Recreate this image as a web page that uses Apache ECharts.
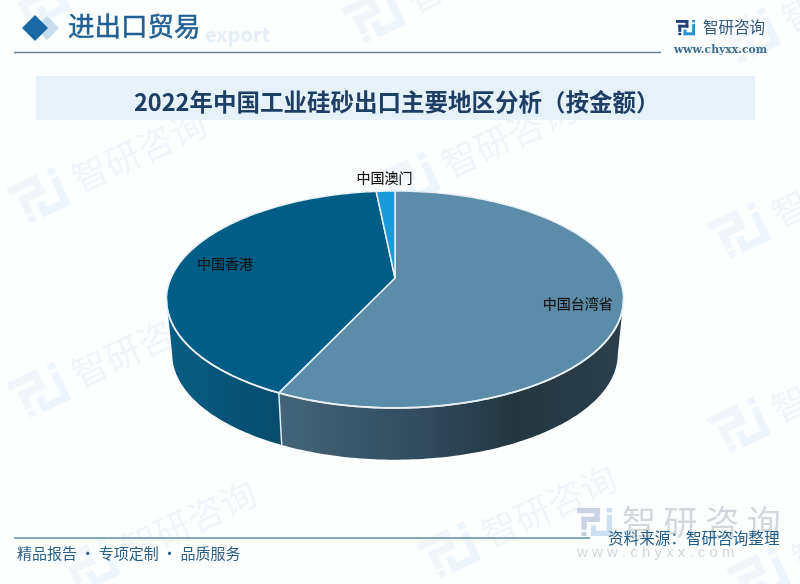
<!DOCTYPE html>
<html><head><meta charset="utf-8">
<style>html,body{margin:0;padding:0;background:#fff}#c{width:800px;height:584px}</style>
<script src="https://cdn.jsdelivr.net/npm/echarts@6/dist/echarts.min.js"></script>
</head><body><div id="c"></div>
<script>
// ---- data ----
const categories = ['中国台湾省', '中国香港', '中国澳门'];
const shares = [57.0, 41.4, 1.6];
const chartTitle = '2022年中国工业硅砂出口主要地区分析（按金额）';
const sectionTitle = '进出口贸易';
const footerLeft = '精品报告 · 专项定制 · 品质服务';
const footerRight = '资料来源：智研咨询整理';

// ---- style ----
const CJK = '"Noto Sans CJK SC","Noto Sans",sans-serif';
const topColors = ['#5b8ca9', '#005d85', '#1a9ad6'];
const wallStops = [
  [[0,'#436479'],[0.45,'#30495b'],[0.68,'#24363f'],[1,'#2a3f4c']],
  [[0,'#0a5d83'],[1,'#074c6e']],
  [[0,'#0f6d99'],[1,'#0f6d99']]
];
const labelRadius = [0.79, 0.79, 1.13];
const labelShift = [[4,7],[0,-1],[0,-4]];
// Perspective of the disc
const P = {cx:395, cy:278, a:104.2, b:224, k:-0.198, bottomScale:0.975, depth:55, wallFrom:101.4, wallTo:258.6};

function project(deg, r, bottom) {
  const t = deg * Math.PI / 180;
  const u = r * Math.sin(t), v = -r * Math.cos(t);
  const w = 1 + P.k * v;
  const s = bottom ? P.bottomScale : 1;
  return [P.cx + s * P.b * u / w, P.cy + s * P.a * v / w + (bottom ? P.depth : 0)];
}
const total = shares.reduce((s, x) => s + x, 0);
function sliceRange(i) {
  let st = 0;
  for (let j = 0; j < i; j++) st += shares[j];
  return [st / total * 360, (st + shares[i]) / total * 360];
}
function arc(from, to, bottom) {
  const pts = [];
  const n = Math.max(2, Math.ceil(Math.abs(to - from)));
  for (let i = 0; i <= n; i++) pts.push(project(from + (to - from) * i / n, 1, bottom));
  return pts;
}
function renderSlice(params, api) {
  const i = params.dataIndex;
  const [st, en] = sliceRange(i);
  const children = [];
  const wf = Math.max(st, P.wallFrom), wt = Math.min(en, P.wallTo);
  if (wt > wf) {
    children.push({type:'polygon', z2:1,
      shape:{points: arc(wf, wt, false).concat(arc(wf, wt, true).reverse())},
      style:{fill:{type:'linear',x:0,y:0,x2:1,y2:0,colorStops:wallStops[i].map(s=>({offset:s[0],color:s[1]}))}, stroke:null}});
    if (st >= P.wallFrom) {
      const a = project(st,1,false), b = project(st,1,true);
      children.push({type:'line', z2:3, shape:{x1:a[0],y1:a[1],x2:b[0],y2:b[1]}, style:{stroke:'#dfeaf1', lineWidth:1.5}});
    }
    children.push({type:'polyline', z2:3, shape:{points: arc(wf, wt, false)}, style:{stroke:'#e6f0f5', lineWidth:1.8, fill:null}});
  }
  const apex = [P.cx, P.cy];
  children.push({type:'polygon', z2:2,
    shape:{points:[apex].concat(arc(st, en, false))},
    style:{fill: topColors[i], stroke:'#e6f0f5', lineWidth:1.5, lineJoin:'round'}});
  const lp = project((st + en) / 2, labelRadius[i], false);
  children.push({type:'text', z2:10, style:{text: categories[i], x: lp[0] + labelShift[i][0], y: lp[1] + labelShift[i][1], align:'center', verticalAlign:'middle', fill:'#111', stroke:'rgba(17,17,17,0.35)', lineWidth:0.3, font:'14px '+CJK}});
  return {type:'group', children};
}

// ---- decoration helpers ----
function logo(x, y, s, c1, c2, extra) {
  const r = (a,b,w,h,col) => ({type:'rect', shape:{x:x+a*s,y:y+b*s,width:w*s,height:h*s}, style:{fill:col}, ...extra});
  return [
    r(0,0,13,3,c1), r(10,0,3,8,c1), r(2.5,5,10.5,3,c1), r(2.5,5,3,7.5,c1), r(2.5,13.5,3,2.5,c1),
    r(17,0,3,2.5,c2), r(17,4,3,12,c2), r(8,13,12,3,c2), r(8,10,3,6,c2)
  ];
}
function watermark(x, y) {
  const c = '#f2f5f9', c2 = '#eef5fc';
  const grp = {type:'group', x:x, y:y, rotation:Math.PI*25/180, z:-5, children:[]};
  logo(-48, -24, 2.6, c, c2, {}).forEach(p=>{p.z=-5;grp.children.push(p);});
  grp.children.push({type:'text', z:-5, style:{text:'智研咨询', x:16, y:-20, fill:'#f1f4f8', font:'36px '+CJK}});
  return grp;
}
const watermarks = [[60,190],[430,175],[760,225],[60,385],[430,375],[760,420],[110,560],[470,545],[395,10],[60,-5],[770,30],[780,570]];
const g = [
  ...watermarks.map(w => watermark(w[0], w[1])),
  {type:'text', z:-4, style:{text:'export', x:205, y:24, fill:'#e6eff7', font:'bold 20px '+CJK}},
  {type:'polygon', z:-3, shape:{points:[[47,16],[59,28],[47,40],[35,28]]}, style:{fill:'#c7dcec'}},
  {type:'polygon', shape:{points:[[35,15],[48,28],[35,41],[22,28]]}, style:{fill:'#1b68a6'}},
  {type:'text', style:{text:sectionTitle, x:68, y:13, fill:'#1f5f93', font:'26.5px '+CJK, stroke:'#1f5f93', lineWidth:0.5}},
  {type:'line', shape:{x1:14,y1:52.5,x2:661,y2:52.5}, style:{stroke:'#5f8296', lineWidth:1.3}},
  {type:'rect', z:-2, shape:{x:36,y:76,width:719,height:44}, style:{fill:'#e7f1fa'}},
  ...logo(676, 20, 0.95, '#1f3f7a', '#2a8fd0', {}),
  {type:'text', style:{text:'智研咨询', x:703, y:19, fill:'#33587a', font:'15.5px '+CJK}},
  {type:'text', style:{text:'www.chyxx.com', x:674, y:45, fill:'#3f6d8c', font:'bold 10.8px "DejaVu Serif",serif'}},
  {type:'line', shape:{x1:14,y1:538,x2:590,y2:538}, style:{stroke:'#5d8ca3', lineWidth:1.3}},
  {type:'text', style:{text:footerLeft, x:17, y:546, fill:'#2a5f86', font:'15px '+CJK}},
  ...logo(577, 508, 1.75, '#c9d3e3', '#cde0f2', {z:-1}),
  {type:'text', z:-1, style:{text:'智 研 咨 询', x:622, y:505, fill:'#d3d7dc', font:'34px '+CJK}},
  {type:'text', z:-1, style:{text:'w w w . c h y x x . c o m', x:577, y:545, fill:'#d3d7dc', font:'15px "Liberation Sans",sans-serif'}},
  {type:'text', z:5, style:{text:footerRight, x:608, y:530, fill:'#1f5c8a', font:'15.6px '+CJK}}
];

const chart = echarts.init(document.getElementById('c'), null, {renderer:'canvas'});
chart.setOption({
  animation:false,
  backgroundColor:'#fdfefe',
  title:{text:chartTitle, left:129, top:85, textStyle:{fontFamily:CJK, fontSize:23.5, fontWeight:'bold', color:'#1d3f66'}},
  graphic:{elements:g},
  series:[{type:'custom', coordinateSystem:'none', renderItem:renderSlice, silent:true,
    data:categories.map((n,i)=>({name:n, value:shares[i]}))}]
});
</script></body></html>
